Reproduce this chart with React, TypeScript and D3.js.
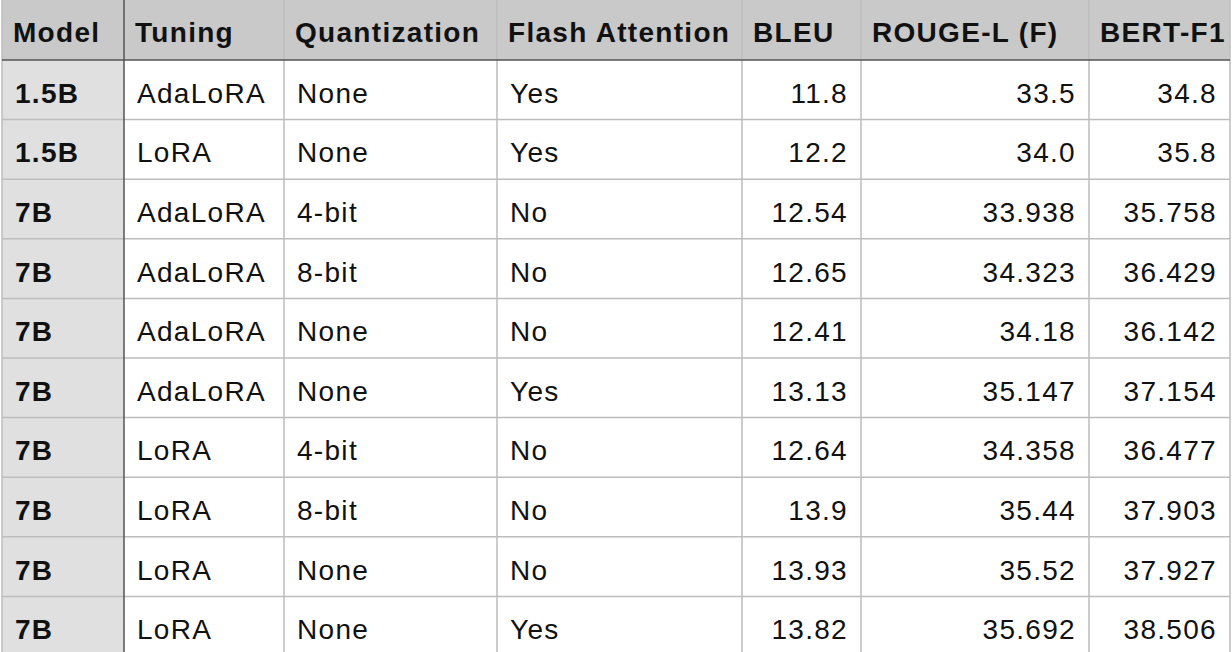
import React from 'react';
import * as d3 from 'd3';

const columns = ['Model', 'Tuning', 'Quantization', 'Flash Attention', 'BLEU', 'ROUGE-L (F)', 'BERT-F1'];
const models = ['1.5B', '1.5B', '7B', '7B', '7B', '7B', '7B', '7B', '7B', '7B'];
const tunings = ['AdaLoRA', 'LoRA', 'AdaLoRA', 'AdaLoRA', 'AdaLoRA', 'AdaLoRA', 'LoRA', 'LoRA', 'LoRA', 'LoRA'];
const quants = ['None', 'None', '4-bit', '8-bit', 'None', 'None', '4-bit', '8-bit', 'None', 'None'];
const flash = ['Yes', 'Yes', 'No', 'No', 'No', 'Yes', 'No', 'No', 'No', 'Yes'];
const bleu = ['11.8', '12.2', '12.54', '12.65', '12.41', '13.13', '12.64', '13.9', '13.93', '13.82'];
const rouge = ['33.5', '34.0', '33.938', '34.323', '34.18', '35.147', '34.358', '35.44', '35.52', '35.692'];
const bert = ['34.8', '35.8', '35.758', '36.429', '36.142', '37.154', '36.477', '37.903', '37.927', '38.506'];

const colEdges = [2, 124, 284, 497, 742, 861, 1089, 1230];
const numeric = [false, false, false, false, true, true, true];

const width = 1232;
const height = 652;
const headerH = 60;
const rowH = 59.6;

export default function App() {
  const cols = [models, tunings, quants, flash, bleu, rouge, bert];
  const y = d3.scaleLinear().domain([0, 1]).range([headerH, headerH + rowH]);
  const font = '"Liberation Sans", Arial, Helvetica, sans-serif';
  const light = '#bdbdbd';

  return (
    <svg width={width} height={height} style={{ position: 'absolute', left: 0, top: 0, background: '#fff' }}>
      {/* header */}
      <rect x={colEdges[0]} y={0} width={colEdges[7] - colEdges[0]} height={headerH} fill="#c9c9c9" />
      {/* model column */}
      <rect x={colEdges[0]} y={headerH} width={colEdges[1] - colEdges[0]} height={height - headerH} fill="#e0e0e0" />

      {models.map((_, i) => (
        <line key={'h' + i} x1={colEdges[0]} x2={colEdges[7]} y1={y(i + 1)} y2={y(i + 1)} stroke={light} strokeWidth={1.5} />
      ))}
      {colEdges.map((x, j) => (
        <line key={'v' + j} x1={x} x2={x} y1={0} y2={height} stroke={j === 1 ? '#555' : light} strokeWidth={1.5} />
      ))}
      <line x1={colEdges[0]} x2={colEdges[7]} y1={headerH} y2={headerH} stroke="#555" strokeWidth={1.5} />

      {columns.map((c, j) => (
        <text key={'c' + j} x={colEdges[j] + 11} y={headerH / 2 + 2} dy="0.36em" fontFamily={font} fontSize={28} letterSpacing={1.3} fontWeight="bold" fill="#111">
          {c}
        </text>
      ))}

      {cols.map((vals, j) =>
        vals.map((v, i) => (
          <text
            key={j + '-' + i}
            x={numeric[j] ? colEdges[j + 1] - 13 : colEdges[j] + 13}
            y={y(i + 0.5) + 3}
            dy="0.36em"
            textAnchor={numeric[j] ? 'end' : 'start'}
            fontFamily={font}
            fontSize={28}
            letterSpacing={1.3}
            fontWeight={j === 0 ? 'bold' : 'normal'}
            fill="#111"
          >
            {v}
          </text>
        ))
      )}
    </svg>
  );
}
